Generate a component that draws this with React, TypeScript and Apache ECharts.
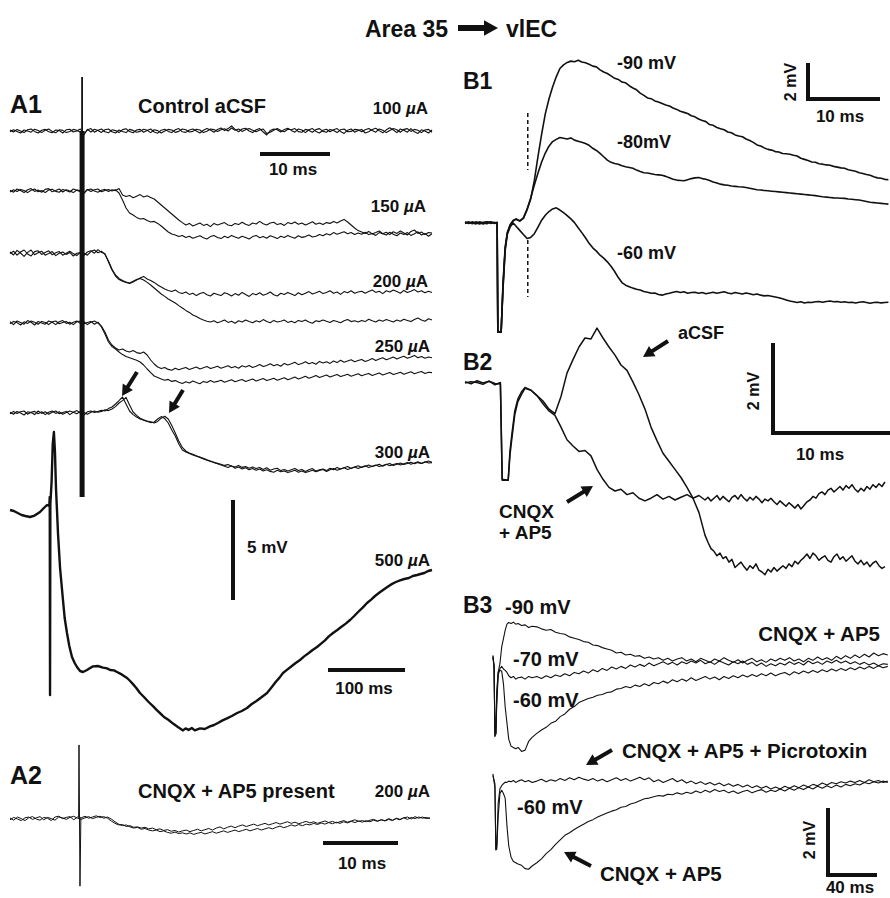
import React, { useEffect, useRef } from "react";
import * as echarts from "echarts";

const FONT = '"Liberation Sans", Arial, Helvetica, sans-serif';
const INK = "#111111";

// ---------------- DATA (mV relative to baseline, time in ms) ----------------
// A1: paired traces sampled every 0.5 ms, 0..60 ms
const A1_STEP = 0.5;
const a1_100a = [
0.05,-0.05,0.08,0.00,-0.08,0.06,0.10,-0.02,-0.10,0.04,
0.08,-0.04,-0.08,0.05,0.02,-0.10,0.06,0.09,-0.05,0.00,
0.10,-0.15,0.05,0.12,-0.06,0.04,0.10,-0.04,-0.09,0.06,
0.02,-0.08,0.07,0.11,-0.03,-0.09,0.05,0.08,-0.06,0.02,
0.10,-0.05,-0.11,0.04,0.09,-0.02,-0.08,0.06,0.12,-0.04,
-0.07,0.05,0.10,0.00,-0.10,0.04,0.13,0.05,-0.06,0.08,
0.15,0.02,0.12,0.25,0.08,-0.04,0.10,0.14,0.00,-0.08,
0.06,0.12,-0.05,-0.20,0.02,0.10,0.06,-0.05,0.08,0.14,
0.03,-0.06,0.10,0.05,-0.08,0.06,0.12,-0.02,-0.10,0.04,
0.09,-0.04,0.06,0.12,-0.02,-0.12,0.04,0.10,-0.06,0.02,
0.08,-0.10,-0.04,0.08,0.14,0.02,-0.09,0.06,0.16,0.05,
-0.08,0.10,0.04,-0.06,0.12,-0.04,-0.12,0.06,0.00,-0.10,0.05];
const a1_100b = [
-0.04,0.06,-0.02,-0.10,0.05,0.00,-0.06,0.09,0.02,-0.08,
0.04,0.10,-0.02,-0.09,0.06,0.03,-0.08,-0.02,0.08,0.04,
-0.06,-0.20,0.08,-0.05,0.09,0.02,-0.07,0.06,0.10,-0.04,
-0.10,0.05,-0.02,-0.08,0.08,0.03,-0.06,-0.02,0.09,0.04,
-0.08,0.06,0.02,-0.10,0.00,0.08,0.05,-0.07,-0.02,0.10,
0.06,-0.05,-0.02,0.09,0.05,-0.08,-0.01,0.10,0.07,-0.03,
0.06,0.11,0.00,0.15,0.04,0.10,-0.02,0.06,0.12,0.04,
-0.04,0.05,0.10,-0.12,-0.06,0.04,0.12,0.03,-0.04,0.09,
0.06,0.12,-0.03,-0.06,0.08,0.03,-0.06,0.07,0.12,-0.02,
-0.06,0.08,0.02,-0.08,0.06,0.10,-0.04,-0.02,0.08,0.06,
-0.04,0.06,0.12,0.02,-0.06,0.10,0.04,-0.08,0.02,0.12,
0.06,-0.06,0.08,0.12,-0.02,0.08,0.04,-0.08,0.05,0.08,-0.06];
const a1_150a = [
0.04,-0.06,0.10,0.02,-0.08,0.06,0.12,-0.02,0.05,-0.06,
0.08,0.12,-0.04,0.02,0.10,-0.05,0.06,0.00,-0.08,0.05,
0.02,-0.10,0.06,0.10,0.00,-0.06,0.04,0.08,-0.02,0.06,
0.02,0.12,-0.20,-0.28,-0.22,-0.34,-0.26,-0.18,-0.30,-0.24,
-0.32,-0.40,-0.55,-0.70,-0.85,-1.00,-1.15,-1.30,-1.45,-1.58,
-1.70,-1.62,-1.75,-1.68,-1.60,-1.72,-1.66,-1.78,-1.62,-1.70,
-1.64,-1.58,-1.70,-1.74,-1.62,-1.68,-1.56,-1.66,-1.72,-1.60,
-1.65,-1.52,-1.64,-1.70,-1.60,-1.56,-1.68,-1.62,-1.72,-1.58,
-1.64,-1.55,-1.66,-1.60,-1.70,-1.62,-1.54,-1.66,-1.60,-1.68,
-1.58,-1.62,-1.52,-1.60,-1.50,-1.42,-1.55,-1.70,-1.85,-1.98,
-2.05,-2.12,-2.02,-2.15,-2.08,-2.00,-2.14,-2.06,-2.18,-2.04,
-2.12,-2.00,-2.10,-2.20,-2.02,-1.95,-2.12,-2.05,-2.18,-2.08,-2.10];
const a1_150b = [
-0.05,0.06,-0.02,0.08,0.02,-0.08,0.04,0.10,-0.04,0.02,
-0.08,0.05,0.09,-0.02,-0.06,0.08,0.02,-0.05,0.10,0.04,
-0.04,-0.12,0.08,-0.02,0.06,0.10,-0.04,0.02,0.08,0.00,
0.06,-0.10,-0.45,-0.85,-1.10,-1.20,-1.32,-1.40,-1.38,-1.48,
-1.55,-1.52,-1.62,-1.75,-1.90,-2.05,-2.15,-2.20,-2.28,-2.22,
-2.32,-2.26,-2.36,-2.30,-2.24,-2.34,-2.40,-2.28,-2.22,-2.32,
-2.38,-2.26,-2.34,-2.22,-2.30,-2.36,-2.26,-2.32,-2.40,-2.28,
-2.22,-2.34,-2.28,-2.36,-2.24,-2.30,-2.38,-2.26,-2.32,-2.22,
-2.30,-2.36,-2.24,-2.32,-2.28,-2.20,-2.30,-2.26,-2.18,-2.24,
-2.14,-2.20,-2.08,-2.16,-2.10,-2.04,-2.14,-2.08,-2.18,-2.10,
-2.16,-2.06,-2.18,-2.12,-2.22,-2.08,-2.14,-2.20,-2.06,-2.16,
-2.24,-2.10,-2.18,-2.08,-2.22,-2.14,-2.04,-2.20,-2.12,-2.26,-2.14];
const a1_200a = [
0.10,-0.05,0.18,0.05,-0.12,0.08,0.20,-0.04,0.06,0.14,
-0.06,0.02,0.12,-0.08,0.04,0.10,-0.02,0.08,-0.10,0.04,
0.06,-0.08,0.10,0.16,0.04,0.22,0.08,0.02,-0.40,-0.80,
-1.10,-1.28,-1.36,-1.42,-1.48,-1.40,-1.30,-1.20,-1.12,-1.25,
-1.32,-1.42,-1.55,-1.65,-1.75,-1.82,-1.88,-1.80,-1.92,-1.98,
-1.90,-2.02,-1.96,-2.08,-1.98,-1.92,-2.04,-2.10,-1.96,-2.02,
-2.08,-1.94,-2.00,-2.10,-1.98,-2.06,-1.92,-2.02,-2.12,-1.98,
-2.04,-1.94,-2.06,-2.00,-1.90,-2.04,-2.10,-1.96,-2.02,-1.92,
-2.00,-2.08,-1.94,-2.04,-1.96,-1.88,-2.00,-1.94,-1.86,-1.98,
-1.92,-1.84,-1.96,-1.90,-2.02,-1.88,-1.94,-1.84,-1.96,-1.90,
-1.86,-1.96,-1.88,-1.80,-1.92,-1.86,-1.98,-1.84,-1.90,-1.80,
-1.88,-1.96,-1.82,-1.92,-1.86,-1.78,-1.90,-1.84,-1.94,-1.86,-1.92];
const a1_200b = [
0.02,0.14,-0.06,0.10,0.20,0.00,-0.10,0.12,0.16,-0.02,
0.08,0.16,-0.04,0.06,0.12,-0.06,0.04,0.14,0.02,-0.08,
0.10,0.04,-0.06,0.12,0.20,0.06,0.14,-0.02,-0.35,-0.75,
-1.05,-1.22,-1.32,-1.40,-1.45,-1.36,-1.28,-1.22,-1.30,-1.42,
-1.55,-1.70,-1.85,-2.00,-2.12,-2.25,-2.35,-2.45,-2.58,-2.70,
-2.82,-2.92,-3.05,-3.12,-3.22,-3.30,-3.36,-3.40,-3.34,-3.44,
-3.38,-3.30,-3.42,-3.36,-3.46,-3.34,-3.40,-3.30,-3.38,-3.44,
-3.34,-3.40,-3.28,-3.38,-3.44,-3.32,-3.40,-3.36,-3.30,-3.42,
-3.36,-3.44,-3.32,-3.38,-3.30,-3.40,-3.46,-3.34,-3.38,-3.30,
-3.36,-3.42,-3.32,-3.38,-3.44,-3.34,-3.28,-3.38,-3.34,-3.40,
-3.32,-3.38,-3.26,-3.34,-3.40,-3.30,-3.36,-3.28,-3.34,-3.40,
-3.30,-3.36,-3.26,-3.32,-3.38,-3.28,-3.20,-3.30,-3.36,-3.24,-3.30];
const a1_250a = [
0.06,-0.08,0.10,0.02,-0.06,0.12,0.04,-0.10,0.08,0.00,
-0.06,0.10,0.04,-0.08,0.06,0.12,-0.02,0.04,-0.08,0.06,
0.10,-0.04,0.02,0.08,-0.06,0.04,-0.15,-0.45,-0.85,-1.10,
-1.25,-1.35,-1.30,-1.40,-1.45,-1.38,-1.48,-1.52,-1.45,-1.60,
-1.85,-2.05,-2.20,-2.28,-2.22,-2.32,-2.36,-2.26,-2.34,-2.28,
-2.22,-2.32,-2.26,-2.20,-2.30,-2.24,-2.18,-2.28,-2.22,-2.16,
-2.26,-2.20,-2.14,-2.24,-2.18,-2.26,-2.14,-2.20,-2.12,-2.22,
-2.16,-2.08,-2.18,-2.12,-2.04,-2.14,-2.08,-2.16,-2.02,-2.10,
-2.04,-1.96,-2.08,-2.02,-1.94,-2.04,-1.98,-2.06,-1.92,-2.00,
-1.94,-2.02,-1.90,-1.98,-1.86,-1.96,-1.90,-1.84,-1.94,-1.88,
-1.82,-1.92,-1.86,-1.78,-1.88,-1.80,-1.74,-1.84,-1.78,-1.70,
-1.80,-1.72,-1.66,-1.76,-1.70,-1.62,-1.74,-1.68,-1.76,-1.70,-1.74];
const a1_250b = [
-0.04,0.08,0.02,-0.10,0.06,-0.02,0.10,0.04,-0.06,0.08,
0.02,-0.08,0.06,0.10,-0.04,0.02,0.08,-0.06,0.04,0.10,
-0.02,0.06,-0.08,0.04,0.10,0.00,-0.20,-0.55,-0.95,-1.18,
-1.30,-1.45,-1.58,-1.68,-1.74,-1.80,-1.86,-1.95,-2.10,-2.30,
-2.48,-2.65,-2.72,-2.80,-2.86,-2.82,-2.92,-2.88,-2.96,-3.02,
-2.94,-3.00,-2.90,-2.98,-3.04,-2.92,-2.98,-2.88,-2.96,-2.92,
-2.86,-2.96,-2.90,-2.84,-2.94,-2.88,-2.82,-2.92,-2.86,-2.80,
-2.90,-2.84,-2.78,-2.88,-2.82,-2.76,-2.86,-2.80,-2.74,-2.84,
-2.78,-2.70,-2.80,-2.74,-2.66,-2.76,-2.70,-2.62,-2.72,-2.66,
-2.60,-2.70,-2.64,-2.58,-2.68,-2.62,-2.56,-2.66,-2.60,-2.54,
-2.64,-2.58,-2.52,-2.62,-2.56,-2.50,-2.60,-2.54,-2.48,-2.58,
-2.52,-2.46,-2.56,-2.50,-2.44,-2.54,-2.48,-2.42,-2.52,-2.46,-2.48];
const a1_300a = [
0.04,-0.06,0.08,0.00,-0.10,0.06,0.02,-0.08,0.10,-0.02,
0.06,-0.06,0.04,0.10,-0.04,0.02,0.08,-0.08,0.04,0.12,
0.00,-0.10,0.06,0.10,0.02,0.08,0.14,0.10,0.22,0.30,
0.45,0.62,0.80,0.45,0.10,-0.08,-0.20,-0.30,-0.36,-0.42,
-0.48,-0.45,-0.30,-0.18,-0.28,-0.50,-0.85,-1.15,-1.55,-1.85,
-1.95,-2.02,-2.10,-2.16,-2.22,-2.30,-2.36,-2.42,-2.48,-2.52,
-2.56,-2.62,-2.58,-2.66,-2.70,-2.62,-2.72,-2.68,-2.76,-2.70,
-2.78,-2.72,-2.82,-2.74,-2.86,-2.80,-2.76,-2.88,-2.82,-2.90,
-2.84,-2.78,-2.88,-2.82,-2.92,-2.84,-2.78,-2.90,-2.84,-2.80,
-2.88,-2.76,-2.84,-2.72,-2.80,-2.74,-2.68,-2.78,-2.70,-2.64,
-2.72,-2.66,-2.60,-2.68,-2.62,-2.56,-2.66,-2.58,-2.52,-2.62,
-2.56,-2.50,-2.58,-2.52,-2.46,-2.54,-2.48,-2.52,-2.44,-2.50,-2.48];
const a1_300b = [
-0.04,0.08,-0.02,0.06,0.10,-0.06,0.04,0.08,-0.04,0.06,
-0.08,0.04,0.10,-0.02,0.06,-0.06,0.02,0.10,0.04,-0.04,
0.08,0.02,-0.06,0.04,0.10,0.04,0.08,0.16,0.12,0.20,
0.32,0.50,0.62,0.78,0.40,0.05,-0.12,-0.26,-0.34,-0.40,
-0.44,-0.50,-0.42,-0.26,-0.16,-0.30,-0.62,-1.00,-1.40,-1.72,
-1.90,-2.00,-2.06,-2.14,-2.20,-2.26,-2.34,-2.40,-2.46,-2.54,
-2.60,-2.66,-2.72,-2.64,-2.76,-2.70,-2.80,-2.74,-2.84,-2.78,
-2.86,-2.80,-2.90,-2.84,-2.92,-2.96,-2.86,-2.94,-2.90,-2.98,
-2.92,-2.86,-2.96,-2.90,-2.98,-2.92,-2.86,-2.94,-2.88,-2.82,
-2.92,-2.84,-2.78,-2.86,-2.80,-2.74,-2.82,-2.76,-2.70,-2.78,
-2.70,-2.64,-2.72,-2.66,-2.60,-2.68,-2.62,-2.56,-2.64,-2.58,
-2.52,-2.60,-2.54,-2.48,-2.56,-2.50,-2.44,-2.52,-2.46,-2.40,-2.46];
// stimulus artifact in A1 (time, top, bottom in mV of the 100 µA trace)
const a1ArtifactT = 10.25;
const a1ArtifactV = [2.7, 0, -18.3];

// A1 500 µA, [time ms, mV]
const a1_500: [number, number][] = [
[0,0.1],[5,0.05],[10,-0.05],[15,-0.15],[20,-0.2],[26,-0.25],[32,-0.18],[39,0.0],[44,0.2],[48,0.35],
[51,0.3],[51.6,0.75],[52,-9.15],[52.4,0.4],[54,1.5],[55.5,3.4],[57,4.0],[58.4,3.0],[59.7,1.2],[61,0.1],
[62.3,-1.05],[65,-2.8],[68.8,-4.4],[71,-5.3],[74,-6.05],[77,-6.7],[80.5,-7.25],[84,-7.55],[87,-7.75],[91,-7.95],
[94.8,-8.0],[100,-7.9],[104,-7.8],[107.8,-7.72],[114,-7.7],[120.8,-7.78],[126,-7.82],[130,-7.9],[135,-7.92],[139,-8.0],
[145,-8.12],[152,-8.3],[156,-8.45],[160,-8.62],[164,-8.8],[168.8,-9.05],[174,-9.25],[180,-9.5],[186,-9.72],[191,-9.92],
[196,-10.1],[200,-10.25],[206,-10.4],[211.7,-10.58],[218,-10.75],[224.7,-10.92],[228,-10.82],[232,-10.9],[236,-10.8],[240,-10.92],
[246.8,-10.82],[253,-10.85],[259.7,-10.72],[265,-10.65],[270,-10.55],[276,-10.42],[281.8,-10.32],[288,-10.2],[295,-10.05],[301,-9.95],
[307.8,-9.8],[314,-9.6],[320,-9.45],[327,-9.25],[333.8,-9.05],[339,-8.8],[345,-8.5],[350,-8.28],[354.5,-8.05],[360,-7.88],
[366,-7.7],[371,-7.55],[376.6,-7.4],[382,-7.22],[388,-7.05],[393,-6.9],[398.7,-6.75],[404,-6.58],[409,-6.42],[414,-6.22],
[419.5,-6.05],[425,-5.9],[430,-5.75],[436,-5.58],[441.6,-5.4],[447,-5.2],[452,-5.0],[458,-4.78],[463.6,-4.55],[469,-4.38],
[474,-4.2],[479,-4.05],[484.4,-3.9],[490,-3.75],[495,-3.62],[501,-3.5],[506.5,-3.42],[512,-3.35],[518,-3.3],[523,-3.2],
[528.6,-3.15],[533,-3.1],[538,-3.05],[543,-2.95],[548,-2.9]];

// A2: paired traces every 0.5 ms, 0..56 ms
const A2_STEP = 0.5;
const a2_a = [
0.05,-0.06,0.10,0.02,-0.08,0.06,0.12,0.00,-0.06,0.08,
0.04,-0.08,0.10,0.14,0.02,0.08,0.12,-0.04,0.10,0.06,
0.14,0.04,0.10,0.16,0.08,0.12,0.04,-0.10,-0.22,-0.30,
-0.28,-0.38,-0.34,-0.42,-0.40,-0.46,-0.42,-0.50,-0.46,-0.54,
-0.50,-0.58,-0.54,-0.62,-0.58,-0.66,-0.60,-0.56,-0.64,-0.58,
-0.52,-0.60,-0.54,-0.48,-0.56,-0.46,-0.40,-0.50,-0.42,-0.36,
-0.44,-0.36,-0.30,-0.38,-0.32,-0.26,-0.34,-0.28,-0.22,-0.30,
-0.24,-0.18,-0.26,-0.20,-0.14,-0.22,-0.16,-0.24,-0.18,-0.12,
-0.20,-0.14,-0.22,-0.16,-0.10,-0.18,-0.12,-0.20,-0.14,-0.08,
-0.16,-0.10,-0.04,-0.12,-0.08,-0.14,-0.06,-0.02,-0.10,-0.04,
-0.08,0.02,-0.06,0.04,-0.02,0.06,0.10,0.00,0.12,0.04,
0.10,0.02,0.06];
const a2_b = [
-0.04,0.08,0.00,-0.08,0.06,0.10,-0.02,0.06,0.12,-0.04,
0.08,0.02,-0.06,0.10,0.06,-0.02,0.08,0.14,0.04,-0.02,
0.06,0.12,0.02,0.08,0.14,0.04,0.10,0.00,-0.14,-0.26,
-0.34,-0.30,-0.40,-0.46,-0.42,-0.52,-0.48,-0.56,-0.60,-0.56,
-0.64,-0.60,-0.68,-0.72,-0.66,-0.74,-0.70,-0.76,-0.70,-0.78,
-0.72,-0.68,-0.76,-0.70,-0.64,-0.72,-0.66,-0.60,-0.68,-0.62,
-0.56,-0.64,-0.58,-0.52,-0.60,-0.54,-0.48,-0.56,-0.50,-0.44,
-0.50,-0.42,-0.36,-0.44,-0.38,-0.30,-0.36,-0.28,-0.34,-0.26,
-0.30,-0.22,-0.28,-0.20,-0.26,-0.18,-0.24,-0.16,-0.22,-0.14,
-0.20,-0.12,-0.18,-0.10,-0.16,-0.08,-0.14,-0.06,-0.12,-0.04,
-0.10,-0.02,-0.08,0.02,-0.04,0.06,-0.02,0.08,0.02,0.10,
0.04,0.08,0.02];
const a2ArtifactT = [9.15, 9.2, 9.33, 9.45];
const a2ArtifactV = [0.1, 3.75, -3.4, 0.05];

// sampling-time helper (times only)
const seq = (a: number, b: number, s: number) => {
  const r: number[] = [];
  for (let k = 0; a + k * s <= b + 1e-9; k++) r.push(+(a + k * s).toFixed(2));
  return r;
};

// B1: three holding potentials
const B1_T = [0,0.5,1,1.5,2,2.5,3,3.5,4,4.4,4.5,4.95,5.2,5.5,5.8,6.2,6.6,7.0, ...seq(7.5, 58, 0.5)];
const b1_m90 = [
0.05,-0.03,0.06,0.00,-0.05,0.04,0.07,-0.02,0.03,0.02,-5.9,-5.9,-3.5,-1.4,-0.55,-0.1,0.12,0.2,
0.10,0.25,0.70,1.30,2.30,3.60,4.80,5.90,6.70,7.35,
7.90,8.35,8.55,8.68,8.75,8.72,8.80,8.70,8.66,8.58,
8.48,8.44,8.28,8.16,8.08,7.95,7.82,7.76,7.62,7.58,
7.42,7.30,7.20,7.02,6.90,6.76,6.72,6.60,6.54,6.46,
6.38,6.32,6.22,6.14,6.04,5.98,5.92,5.80,5.74,5.62,
5.54,5.48,5.32,5.28,5.16,5.10,5.04,4.92,4.88,4.76,
4.70,4.66,4.54,4.46,4.36,4.22,4.16,4.06,3.98,3.94,
3.86,3.84,3.76,3.74,3.72,3.66,3.62,3.50,3.44,3.38,
3.30,3.28,3.20,3.18,3.14,3.12,3.06,3.02,2.98,2.96,
2.88,2.84,2.80,2.72,2.68,2.62,2.58,2.50,2.44,2.42,
2.36,2.34];
const b1_m80 = [
0.02,0.05,-0.04,0.06,0.01,-0.05,0.04,0.06,-0.02,0.03,-5.85,-5.9,-3.3,-1.3,-0.5,-0.08,0.14,0.22,
0.12,0.28,0.75,1.35,2.05,2.70,3.30,3.78,4.15,4.40,
4.52,4.62,4.58,4.54,4.60,4.48,4.42,4.36,4.30,4.20,
4.04,3.92,3.76,3.58,3.40,3.28,3.22,3.18,3.10,3.04,
3.00,2.96,2.86,2.78,2.72,2.70,2.66,2.62,2.60,2.58,
2.52,2.44,2.36,2.32,2.30,2.28,2.34,2.40,2.44,2.46,
2.40,2.36,2.30,2.22,2.16,2.10,2.06,2.04,2.00,1.98,
1.96,1.95,1.92,1.88,1.84,1.80,1.78,1.76,1.74,1.72,
1.70,1.68,1.66,1.64,1.62,1.60,1.58,1.56,1.54,1.52,
1.50,1.48,1.45,1.42,1.40,1.38,1.36,1.35,1.34,1.33,
1.30,1.28,1.26,1.24,1.20,1.16,1.12,1.10,1.08,1.06,
1.04,1.02];
const b1_m60 = [
-0.03,0.04,0.02,-0.05,0.06,0.00,-0.04,0.05,0.02,0.0,-5.9,-5.85,-3.6,-1.5,-0.6,-0.2,0.0,-0.18,
-0.40,-0.62,-0.84,-0.78,-0.58,-0.22,0.15,0.42,0.62,0.76,
0.82,0.70,0.56,0.40,0.22,0.02,-0.26,-0.52,-0.80,-1.10,
-1.34,-1.52,-1.74,-1.90,-2.10,-2.34,-2.62,-2.95,-3.22,-3.36,
-3.44,-3.52,-3.58,-3.62,-3.70,-3.74,-3.80,-3.78,-3.86,-3.90,
-3.84,-3.80,-3.74,-3.70,-3.76,-3.72,-3.80,-3.76,-3.74,-3.80,
-3.76,-3.82,-3.78,-3.74,-3.80,-3.76,-3.72,-3.78,-3.82,-3.76,
-3.80,-3.84,-3.78,-3.82,-3.88,-3.84,-3.90,-3.94,-3.92,-3.96,
-4.00,-4.04,-4.10,-4.16,-4.22,-4.26,-4.30,-4.26,-4.32,-4.28,
-4.30,-4.26,-4.24,-4.28,-4.24,-4.22,-4.26,-4.24,-4.28,-4.26,
-4.30,-4.28,-4.32,-4.28,-4.26,-4.30,-4.34,-4.30,-4.28,-4.32,
-4.30,-4.28];
// dashed latency markers (time, mV ranges)
const b1MarkerT = 8.6;
const b1MarkerUpper = [5.95, 2.86];
const b1MarkerLower = [-0.92, -4.0];

// B2: aCSF vs CNQX + AP5
const B2_T = [0,0.5,1,1.5,2,2.5,2.95,3.1,3.6,3.75,3.9,4.15,4.4,4.7, ...seq(5, 20, 0.5), ...seq(20.25, 35, 0.25)];
const b2_acsf = [
0.03,-0.02,0.05,0.00,0.04,-0.04,0.01,-2.16,-2.16,-1.60,-1.25,-0.70,-0.42,-0.26,
-0.12,-0.16,-0.28,-0.40,-0.58,-0.68,-0.30,0.22,0.52,0.80,
1.00,0.98,1.22,1.00,0.80,0.62,0.40,0.28,0.02,-0.26,
-0.58,-0.98,-1.28,-1.56,-1.74,-1.92,-2.10,-2.32,-2.56,-2.88,
-3.38,
-3.54,-3.68,-3.74,-3.84,-3.78,-3.90,-3.86,-3.98,-3.92,-4.10,
-4.04,-3.98,-4.08,-4.16,-4.06,-4.12,-4.02,-4.16,-4.20,-4.26,
-4.14,-4.20,-4.10,-4.18,-4.12,-4.06,-4.12,-4.02,-4.08,-3.96,
-4.02,-3.94,-3.88,-3.80,-3.90,-3.78,-3.84,-3.94,-3.88,-3.84,
-3.94,-3.98,-3.86,-3.80,-3.92,-3.86,-3.96,-3.90,-3.84,-3.96,
-4.02,-3.94,-4.04,-3.98,-4.08,-4.00,-3.96,-4.06,-4.12,-4.08];
const b2_cnqx = [
0.00,0.03,0.01,-0.03,0.04,-0.01,-0.02,-2.14,-2.16,-1.50,-1.15,-0.62,-0.36,-0.20,
-0.10,-0.16,-0.28,-0.46,-0.62,-0.72,-0.98,-1.26,-1.40,-1.52,
-1.50,-1.62,-1.92,-2.14,-2.32,-2.40,-2.36,-2.48,-2.44,-2.56,
-2.62,-2.56,-2.48,-2.58,-2.52,-2.60,-2.54,-2.48,-2.56,-2.50,
-2.60,
-2.54,-2.62,-2.56,-2.50,-2.60,-2.52,-2.58,-2.64,-2.54,-2.50,
-2.58,-2.48,-2.56,-2.62,-2.54,-2.60,-2.52,-2.58,-2.66,-2.58,
-2.62,-2.56,-2.64,-2.70,-2.62,-2.68,-2.74,-2.66,-2.72,-2.78,
-2.70,-2.80,-2.72,-2.64,-2.60,-2.52,-2.56,-2.46,-2.42,-2.48,
-2.38,-2.34,-2.42,-2.36,-2.30,-2.38,-2.28,-2.34,-2.26,-2.36,
-2.42,-2.34,-2.40,-2.30,-2.36,-2.26,-2.32,-2.24,-2.30,-2.20];

// B3: slow traces (CNQX + AP5, then + picrotoxin)
const B3_T = [2.5,3.5,4.2,5,5.8,7,8.5,10,11.5,13,14.5,16,18,20,22,24,27,30,33,36, ...seq(40, 340, 4)];
const b3_m90 = [
0.05,-0.30,-2.35,-2.30,-1.20,-0.45,-0.20,0.30,0.55,0.80,0.98,1.03,1.00,1.04,0.98,1.00,0.94,0.96,0.88,0.92,
0.90,0.84,0.80,0.82,0.74,0.70,0.68,0.60,0.56,0.52,
0.46,0.44,0.36,0.34,0.28,0.24,0.20,0.12,0.14,0.06,
0.08,0.02,0.04,-0.04,0.00,-0.06,-0.02,-0.10,-0.04,-0.12,
-0.06,-0.02,-0.12,-0.06,-0.14,-0.04,-0.10,-0.16,-0.06,-0.12,
-0.02,-0.10,-0.16,-0.08,-0.18,-0.10,-0.04,-0.14,-0.08,-0.16,
-0.06,-0.12,-0.04,-0.10,-0.02,-0.12,-0.06,-0.14,-0.04,-0.10,
0.00,-0.08,-0.02,-0.10,0.02,-0.06,0.04,-0.04,0.06,-0.02,
0.08,0.00,0.12,0.04,0.10,0.06];
const b3_m70 = [
0.00,-0.25,-2.20,-2.30,-1.40,-0.55,-0.35,-0.28,-0.36,-0.40,-0.46,-0.56,-0.62,-0.58,-0.66,-0.62,-0.60,-0.66,-0.58,-0.62,
-0.58,-0.64,-0.56,-0.62,-0.54,-0.58,-0.50,-0.56,-0.46,-0.50,
-0.42,-0.48,-0.38,-0.44,-0.34,-0.40,-0.30,-0.36,-0.28,-0.34,
-0.24,-0.30,-0.22,-0.28,-0.18,-0.26,-0.20,-0.14,-0.22,-0.16,
-0.24,-0.14,-0.20,-0.12,-0.18,-0.10,-0.20,-0.14,-0.22,-0.12,
-0.18,-0.24,-0.14,-0.20,-0.12,-0.22,-0.16,-0.26,-0.18,-0.28,
-0.20,-0.26,-0.18,-0.24,-0.14,-0.22,-0.16,-0.24,-0.12,-0.20,
-0.14,-0.22,-0.12,-0.18,-0.10,-0.18,-0.12,-0.20,-0.14,-0.22,
-0.16,-0.24,-0.18,-0.26,-0.20,-0.22];
const b3_m60 = [
0.02,-0.35,-2.38,-2.25,-1.00,-0.45,-0.40,-0.42,-0.80,-1.50,-1.97,-2.45,-2.66,-2.70,-2.74,-2.70,-2.82,-2.78,-2.52,-2.40,
-2.28,-2.18,-2.10,-1.98,-1.92,-1.78,-1.70,-1.56,-1.48,-1.36,
-1.30,-1.24,-1.20,-1.14,-1.12,-1.06,-1.04,-0.96,-0.94,-0.88,
-0.92,-0.84,-0.88,-0.80,-0.86,-0.76,-0.80,-0.72,-0.78,-0.68,
-0.74,-0.66,-0.72,-0.62,-0.70,-0.64,-0.58,-0.66,-0.60,-0.68,
-0.58,-0.64,-0.56,-0.62,-0.54,-0.60,-0.52,-0.58,-0.50,-0.56,
-0.48,-0.56,-0.50,-0.46,-0.54,-0.44,-0.50,-0.42,-0.48,-0.40,
-0.46,-0.38,-0.44,-0.36,-0.42,-0.34,-0.40,-0.32,-0.38,-0.30,
-0.36,-0.28,-0.34,-0.26,-0.32,-0.28];
const b3_pic = [
0.25,0.10,0.00,-2.00,-1.90,-0.60,-0.15,-0.06,0.00,0.05,0.04,0.08,0.06,0.10,0.04,0.08,0.12,0.06,0.10,0.04,
0.08,0.14,0.06,0.12,0.08,0.16,0.10,0.18,0.12,0.20,
0.14,0.10,0.16,0.08,0.14,0.06,0.12,0.18,0.10,0.16,
0.08,0.14,0.20,0.12,0.18,0.06,0.12,0.04,0.10,0.16,
0.06,0.12,0.02,0.08,0.00,0.06,-0.02,0.04,-0.04,0.02,
-0.06,0.00,-0.08,-0.02,-0.10,-0.04,-0.12,-0.06,-0.14,-0.08,
-0.16,-0.10,-0.16,-0.08,-0.14,-0.06,-0.12,-0.04,-0.10,-0.02,
-0.06,0.02,-0.04,0.04,0.00,0.06,0.02,0.08,0.04,0.10,
0.04,0.12,0.06,0.10,0.04,0.08];
const b3_cnqx = [
0.30,0.05,-0.10,-2.03,-2.00,-1.00,-0.30,-0.20,-0.30,-0.45,-1.30,-1.90,-2.25,-2.38,-2.42,-2.46,-2.50,-2.60,-2.62,-2.52,
-2.42,-2.30,-2.14,-2.02,-1.86,-1.72,-1.58,-1.50,-1.40,-1.32,
-1.24,-1.16,-1.10,-1.02,-0.96,-0.90,-0.84,-0.80,-0.72,-0.70,
-0.62,-0.58,-0.52,-0.46,-0.44,-0.40,-0.36,-0.38,-0.32,-0.34,
-0.28,-0.32,-0.26,-0.30,-0.22,-0.28,-0.20,-0.26,-0.18,-0.24,
-0.20,-0.28,-0.22,-0.30,-0.24,-0.20,-0.28,-0.22,-0.18,-0.26,
-0.20,-0.24,-0.16,-0.22,-0.14,-0.20,-0.12,-0.18,-0.10,-0.16,
-0.08,-0.14,-0.06,-0.12,-0.04,-0.10,-0.02,-0.06,0.00,-0.04,
0.04,0.00,0.06,0.02,0.08,0.04];

// ---------------- LAYOUT ----------------
type Panel = { left: number; top: number; width: number; height: number; x: [number, number]; y: [number, number] };
const PANELS: Panel[] = [
  { left: 10, top: 111, width: 422, height: 100, x: [0, 60], y: [-4, 1] },      // 0 A1 100
  { left: 10, top: 171, width: 422, height: 100, x: [0, 60], y: [-4, 1] },      // 1 A1 150
  { left: 10, top: 234, width: 422, height: 100, x: [0, 60], y: [-4, 1] },      // 2 A1 200
  { left: 10, top: 303, width: 422, height: 100, x: [0, 60], y: [-4, 1] },      // 3 A1 250
  { left: 10, top: 393, width: 422, height: 100, x: [0, 60], y: [-4, 1] },      // 4 A1 300
  { left: 10, top: 412, width: 422, height: 340, x: [0, 548], y: [-12, 5] },    // 5 A1 500
  { left: 10, top: 740, width: 422, height: 160, x: [0, 56.27], y: [-4, 4] },   // 6 A2
  { left: 465, top: 47.25, width: 425, height: 296, x: [0, 58.22], y: [-6.5, 9.5] }, // 7 B1
  { left: 465, top: 315.5, width: 425, height: 270, x: [0, 35.42], y: [-4.5, 1.5] }, // 8 B2
  { left: 490, top: 606.75, width: 400, height: 167.5, x: [0, 341.9], y: [-3.5, 1.5] }, // 9 B3 top
  { left: 490, top: 734.75, width: 400, height: 167.5, x: [0, 341.9], y: [-3.5, 1.5] }, // 10 B3 bottom
];

const byStep = (vals: number[], step: number) => vals.map((v, i) => [+(i * step).toFixed(2), v]);
const zip = (ts: number[], vs: number[]) => vs.map((v, i) => [ts[i], v]);

const line = (panel: number, data: number[][], width: number, extra: any = {}) => ({
  type: "line",
  xAxisIndex: panel,
  yAxisIndex: panel,
  data,
  symbol: "none",
  silent: true,
  clip: false,
  animation: false,
  lineStyle: { color: INK, width, cap: "butt", join: "round", ...(extra.lineStyle || {}) },
  z: extra.z ?? 2,
});

const txt = (text: string, x: number, y: number, size: number, align = "left", extra: any = {}) => ({
  type: "text",
  x,
  y,
  silent: true,
  z: 100,
  ...extra,
  style: {
    text,
    fill: INK,
    fontSize: size,
    fontWeight: "bold",
    fontFamily: FONT,
    textAlign: align,
    align,
    textVerticalAlign: "middle",
    verticalAlign: "middle",
  },
});

const uA = (num: string, x: number, y: number, size = 17) => ({
  type: "text",
  x,
  y,
  silent: true,
  z: 100,
  style: {
    text: `{n|${num} }{m|µ}{n|A}`,
    textAlign: "right",
    align: "right",
    textVerticalAlign: "middle",
    verticalAlign: "middle",
    rich: {
      n: { fontSize: size, fontWeight: "bold", fontFamily: FONT, fill: INK },
      m: { fontSize: size, fontWeight: "bold", fontStyle: "italic", fontFamily: FONT, fill: INK },
    },
  },
});

const arrow = (x1: number, y1: number, x2: number, y2: number, w = 4, head = 11) => {
  const dx = x2 - x1, dy = y2 - y1;
  const L = Math.hypot(dx, dy);
  const ux = dx / L, uy = dy / L;
  const bx = x2 - ux * head, by = y2 - uy * head;
  const px = -uy, py = ux;
  const hw = head * 0.55;
  return [
    { type: "line", silent: true, z: 100, shape: { x1, y1, x2: bx + ux, y2: by + uy }, style: { stroke: INK, lineWidth: w } },
    {
      type: "polygon",
      silent: true,
      z: 100,
      shape: { points: [[x2, y2], [bx + px * hw, by + py * hw], [bx - px * hw, by - py * hw]] },
      style: { fill: INK },
    },
  ];
};

const bar = (points: number[][], w = 4) => ({
  type: "polyline",
  silent: true,
  z: 100,
  shape: { points },
  style: { stroke: INK, lineWidth: w, fill: null, lineJoin: "miter", lineCap: "butt" },
});

function buildOption() {
  const grid = PANELS.map((p) => ({ left: p.left, top: p.top, width: p.width, height: p.height, show: false }));
  const xAxis = PANELS.map((p, i) => ({ type: "value", gridIndex: i, min: p.x[0], max: p.x[1], show: false }));
  const yAxis = PANELS.map((p, i) => ({ type: "value", gridIndex: i, min: p.y[0], max: p.y[1], show: false }));

  const series: any[] = [
    line(0, byStep(a1_100a, A1_STEP), 1.1),
    line(0, byStep(a1_100b, A1_STEP), 1.1),
    line(1, byStep(a1_150a, A1_STEP), 1.1),
    line(1, byStep(a1_150b, A1_STEP), 1.1),
    line(2, byStep(a1_200a, A1_STEP), 1.1),
    line(2, byStep(a1_200b, A1_STEP), 1.1),
    line(3, byStep(a1_250a, A1_STEP), 1.1),
    line(3, byStep(a1_250b, A1_STEP), 1.1),
    line(4, byStep(a1_300a, A1_STEP), 1.1),
    line(4, byStep(a1_300b, A1_STEP), 1.1),
    line(0, [[a1ArtifactT, a1ArtifactV[0]], [a1ArtifactT, a1ArtifactV[1]]], 1.8),
    line(0, [[a1ArtifactT, a1ArtifactV[1]], [a1ArtifactT, a1ArtifactV[2]]], 5),
    line(5, a1_500, 2.4),
    line(6, byStep(a2_a, A2_STEP), 1.0),
    line(6, byStep(a2_b, A2_STEP), 1.0),
    line(6, zip(a2ArtifactT, a2ArtifactV), 1.0),
    line(7, zip(B1_T, b1_m90), 1.6),
    line(7, zip(B1_T, b1_m80), 1.6),
    line(7, zip(B1_T, b1_m60), 1.6),
    line(7, [[b1MarkerT, b1MarkerUpper[0]], [b1MarkerT, b1MarkerUpper[1]]], 1.5, { lineStyle: { type: [4, 3] } }),
    line(7, [[b1MarkerT, b1MarkerLower[0]], [b1MarkerT, b1MarkerLower[1]]], 1.5, { lineStyle: { type: [4, 3] } }),
    line(8, zip(B2_T, b2_acsf), 1.5),
    line(8, zip(B2_T, b2_cnqx), 1.5),
    line(9, zip(B3_T, b3_m90), 1.1),
    line(9, zip(B3_T, b3_m70), 1.1),
    line(9, zip(B3_T, b3_m60), 1.1),
    line(10, zip(B3_T, b3_pic), 1.1),
    line(10, zip(B3_T, b3_cnqx), 1.1),
  ];

  const graphic: any[] = [
    // title
    txt("Area 35", 365, 29, 23, "left"),
    ...arrow(458, 28, 498, 28, 6, 14),
    txt("vlEC", 506, 29, 23, "left"),
    // A1
    txt("A1", 10, 104, 25, "left"),
    txt("Control aCSF", 202, 106, 20, "center"),
    uA("100", 428, 108),
    bar([[260, 154], [330, 154]]),
    txt("10 ms", 293, 169, 17, "center"),
    uA("150", 426, 206),
    uA("200", 428, 281),
    uA("250", 430, 346),
    uA("300", 430, 452),
    ...arrow(137, 372, 122, 396, 4, 11),
    ...arrow(183, 390, 169, 413, 4, 11),
    bar([[233, 500], [233, 600]]),
    txt("5 mV", 247, 547, 17, "left"),
    uA("500", 430, 560),
    bar([[328, 670], [405, 670]]),
    txt("100 ms", 364, 688, 17, "center"),
    // A2
    txt("A2", 10, 775, 25, "left"),
    txt("CNQX + AP5 present", 138, 791, 20, "left"),
    uA("200", 430, 791),
    bar([[323, 843], [398, 843]]),
    txt("10 ms", 362, 863, 17, "center"),
    // B1
    txt("B1", 463, 81, 23, "left"),
    txt("-90 mV", 617, 63, 18, "left"),
    txt("-80mV", 617, 142, 18, "left"),
    txt("-60 mV", 617, 253, 18, "left"),
    bar([[808, 63], [808, 99], [880, 99]]),
    txt("2 mV", 790, 82, 16, "center", { rotation: Math.PI / 2 }),
    txt("10 ms", 840, 116, 17, "center"),
    // B2
    txt("B2", 463, 362, 23, "left"),
    txt("aCSF", 678, 333, 18, "left"),
    ...arrow(668, 341, 643, 357, 4, 11),
    bar([[773, 343], [773, 433], [890, 433]]),
    txt("2 mV", 753, 391, 16, "center", { rotation: Math.PI / 2 }),
    txt("10 ms", 820, 454, 17, "center"),
    txt("CNQX", 499, 511, 19, "left"),
    txt("+ AP5", 499, 532, 19, "left"),
    ...arrow(567, 502, 593, 486, 4, 11),
    // B3
    txt("B3", 463, 605, 23, "left"),
    txt("-90 mV", 505, 607, 20, "left"),
    txt("CNQX + AP5", 880, 633, 20.5, "right"),
    txt("-70 mV", 513, 659, 20, "left"),
    txt("-60 mV", 513, 700, 20, "left"),
    txt("CNQX + AP5 + Picrotoxin", 622, 750, 20.5, "left"),
    ...arrow(612, 750, 586, 765, 4, 11),
    txt("-60 mV", 517, 807, 20, "left"),
    txt("CNQX + AP5", 600, 873, 20.5, "left"),
    ...arrow(591, 866, 564, 852, 4, 11),
    bar([[828, 808], [828, 875], [877, 875]]),
    txt("2 mV", 809, 840, 16, "center", { rotation: Math.PI / 2 }),
    txt("40 ms", 850, 887, 17, "center"),
  ];

  return {
    animation: false,
    backgroundColor: "#ffffff",
    grid,
    xAxis,
    yAxis,
    series,
    graphic: { elements: graphic },
  };
}

export default function App() {
  const ref = useRef<HTMLDivElement>(null);
  useEffect(() => {
    if (!ref.current) return;
    const chart = echarts.init(ref.current, null, { renderer: "svg" });
    chart.setOption(buildOption() as any);
    return () => chart.dispose();
  }, []);
  return (
    <div
      ref={ref}
      style={{ position: "absolute", left: 0, top: 0, width: 890, height: 898, background: "#ffffff" }}
    />
  );
}
